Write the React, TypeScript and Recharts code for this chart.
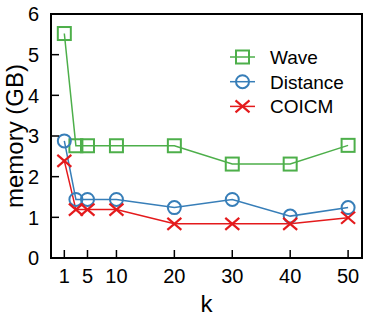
import { LineChart, Line, XAxis, YAxis, ReferenceArea, Legend, Label } from 'recharts';

const kValues = [1, 3, 5, 10, 20, 30, 40, 50];
const waveMem = [5.52, 2.76, 2.76, 2.76, 2.76, 2.31, 2.31, 2.77];
const distanceMem = [2.88, 1.44, 1.44, 1.44, 1.24, 1.44, 1.03, 1.24];
const coicmMem = [2.39, 1.19, 1.19, 1.19, 0.84, 0.84, 0.84, 0.99];
const xTicks = [1, 5, 10, 20, 30, 40, 50];
const yTicks = [0, 1, 2, 3, 4, 5, 6];

const GREEN = '#4daf4a';
const BLUE = '#377eb8';
const RED = '#e41a1c';
const FONT = '"Liberation Sans", Arial, sans-serif';

const data = kValues.map((k, i) => ({
  k,
  wave: waveMem[i],
  distance: distanceMem[i],
  coicm: coicmMem[i],
}));

const series = [
  { key: 'wave', name: 'Wave', color: GREEN, shape: 'square' },
  { key: 'distance', name: 'Distance', color: BLUE, shape: 'circle' },
  { key: 'coicm', name: 'COICM', color: RED, shape: 'cross' },
];

const Marker = ({ cx, cy, color, shape }: any) => {
  if (cx == null || cy == null) return null;
  if (shape === 'square') {
    return <rect x={cx - 6.5} y={cy - 6.5} width={13} height={13} fill="none" stroke={color} strokeWidth={2} />;
  }
  if (shape === 'circle') {
    return <circle cx={cx} cy={cy} r={6.5} fill="none" stroke={color} strokeWidth={2} />;
  }
  return (
    <g stroke={color} strokeWidth={2.2}>
      <line x1={cx - 7} y1={cy - 6} x2={cx + 7} y2={cy + 6} />
      <line x1={cx - 7} y1={cy + 6} x2={cx + 7} y2={cy - 6} />
    </g>
  );
};

const XTick = ({ x, y, payload }: any) => (
  <g>
    <line x1={x} y1={y} x2={x} y2={y - 8} stroke="#000" strokeWidth={1.5} />
    <text x={x} y={y + 25} textAnchor="middle" fontSize={20} fontFamily={FONT} fill="#000">
      {payload.value}
    </text>
  </g>
);

const YTick = ({ x, y, payload }: any) => (
  <g>
    <line x1={x} y1={y} x2={x + 8} y2={y} stroke="#000" strokeWidth={1.5} />
    <text x={x - 12} y={y} dy="0.36em" textAnchor="end" fontSize={20} fontFamily={FONT} fill="#000">
      {payload.value}
    </text>
  </g>
);

const LegendBox = () => (
  <svg width={140} height={76} style={{ display: 'block' }}>
    {series.map((s, i) => {
      const cy = 13 + i * 24.7;
      return (
        <g key={s.key}>
          <line x1={4} y1={cy} x2={29} y2={cy} stroke={s.color} strokeWidth={1.5} />
          <Marker cx={16.5} cy={cy} color={s.color} shape={s.shape} />
          <text x={44} y={cy} dy="0.36em" fontSize={19} fontFamily={FONT} fill="#000">
            {s.name}
          </text>
        </g>
      );
    })}
  </svg>
);

export default function App() {
  return (
    <div style={{ position: 'absolute', left: 0, top: 0, width: 374, height: 320, background: '#fff' }}>
      <LineChart width={374} height={320} data={data} margin={{ top: 14, right: 12, left: 0, bottom: 0 }}>
        <XAxis
          dataKey="k"
          type="number"
          domain={[-1.3, 52.4]}
          ticks={xTicks}
          interval={0}
          height={62}
          axisLine={false}
          tickLine={false}
          tickSize={0}
          tickMargin={0}
          tick={<XTick />}
        >
          <Label
            content={({ viewBox }: any) => (
              <text
                x={viewBox.x + viewBox.width / 2}
                y={312}
                textAnchor="middle"
                fontSize={24}
                fontFamily={FONT}
                fill="#000"
              >
                k
              </text>
            )}
          />
        </XAxis>
        <YAxis
          type="number"
          domain={[0, 6]}
          ticks={yTicks}
          interval={0}
          width={51}
          axisLine={false}
          tickLine={false}
          tickSize={0}
          tickMargin={0}
          tick={<YTick />}
        >
          <Label
            content={({ viewBox }: any) => {
              const cy = viewBox.y + viewBox.height / 2;
              return (
                <text
                  x={14}
                  y={cy}
                  dy="0.36em"
                  transform={`rotate(-90, 14, ${cy})`}
                  textAnchor="middle"
                  fontSize={24}
                  fontFamily={FONT}
                  fill="#000"
                >
                  memory (GB)
                </text>
              );
            }}
          />
        </YAxis>
        <ReferenceArea x1={-1.3} x2={52.4} y1={0} y2={6} fill="none" stroke="#000" strokeWidth={2} ifOverflow="visible" />
        {series.map((s) => (
          <Line
            key={s.key}
            dataKey={s.key}
            name={s.name}
            stroke={s.color}
            strokeWidth={1.5}
            isAnimationActive={false}
            dot={(p: any) => <Marker key={`${s.key}-${p.index}`} cx={p.cx} cy={p.cy} color={s.color} shape={s.shape} />}
            activeDot={false}
          />
        ))}
        <Legend
          layout="vertical"
          align="center"
          verticalAlign="middle"
          content={() => <LegendBox />}
          wrapperStyle={{ position: 'absolute', left: 226, top: 44, width: 140, height: 76 }}
        />
      </LineChart>
    </div>
  );
}
